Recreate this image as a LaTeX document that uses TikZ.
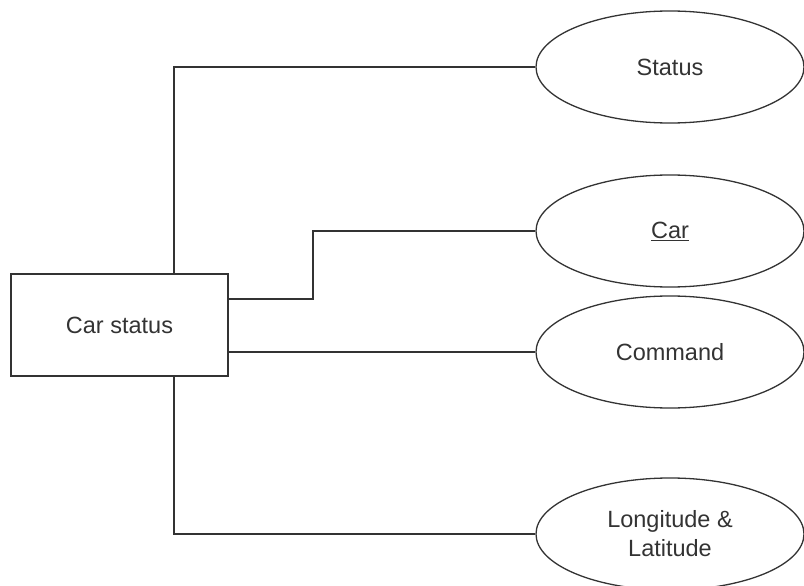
\documentclass[tikz,border=0pt]{standalone}
\usepackage{fontspec}
\setmainfont{Liberation Sans}
\usetikzlibrary{shapes.geometric}
\tikzset{
  entity/.style={draw, minimum width=217pt, minimum height=102pt, inner sep=0pt},
  attrib/.style={draw, ellipse, minimum width=268pt, minimum height=112pt, inner sep=0pt},
}
\begin{document}
\begin{tikzpicture}[x=1pt, y=-1pt, line width=1.3pt, draw=black!80,
    every node/.style={font=\fontsize{23.5}{29}\selectfont, text=black!80}]
    \useasboundingbox (0,0) rectangle (804,586);
    \node[entity] (carstatus) at (119.5,325) {Car status};
    \node[attrib] (status) at (670,67) {Status};
    \node[attrib] (car) at (670,231) {\underline{Car}};
    \node[attrib] (command) at (670,352) {Command};
    \node[attrib, align=center] (lonlat) at (670,534) {Longitude \&\\Latitude};
    \coordinate (carbend) at (313,231);
    \draw ([xshift=54.5pt]carstatus.north) |- (status.west);
    \draw ([yshift=26pt]carstatus.east) -| (carbend) -- (car.west);
    \draw (carstatus.east |- command.west) -- (command.west);
    \draw ([xshift=54.5pt]carstatus.south) |- (lonlat.west);
\end{tikzpicture}
\end{document}
